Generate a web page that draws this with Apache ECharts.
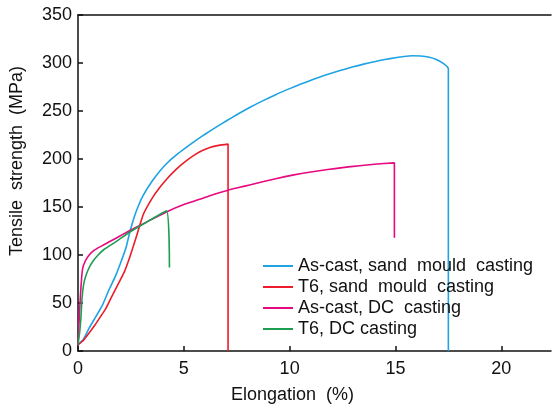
<!DOCTYPE html>
<html>
<head>
<meta charset="utf-8">
<script src="https://cdn.jsdelivr.net/npm/echarts@6/dist/echarts.min.js"></script>
<style>
  html, body { margin: 0; padding: 0; background: #fff; }
  #chart { width: 552px; height: 409px; }
</style>
</head>
<body>
<div id="chart"></div>
<script>
// Tensile stress–strain curves: [elongation %, tensile strength MPa]
const seriesNames = [
  'As-cast, sand  mould  casting',
  'T6, sand  mould  casting',
  'As-cast, DC  casting',
  'T6, DC casting'
];
const seriesColors = ['#1fa3e3', '#ec1c2a', '#e6097f', '#1e9e52'];

const asCastSand = [
  [0, 6.5], [0.25, 12], [0.53, 24], [0.85, 36], [1.16, 48], [1.45, 63], [1.79, 79],
  [2.05, 94], [2.26, 107], [2.45, 124], [2.65, 139], [2.85, 151], [3.08, 162],
  [3.45, 175.3], [3.87, 187.5], [4.25, 196.6], [4.65, 204.2], [5.05, 211],
  [5.44, 217.3], [5.85, 223.5], [6.23, 229], [6.6, 234.2], [7.0, 239.6],
  [7.5, 246.1], [8.11, 253.6], [8.7, 260.3], [9.34, 267], [10.0, 273.3],
  [10.5, 277.8], [11.1, 282.8], [11.7, 287.4], [12.3, 291.6], [13.0, 296],
  [13.5, 298.8], [14.06, 301.6], [14.5, 303.6], [15.0, 305.5], [15.4, 306.8],
  [15.8, 307.5], [16.2, 307.3], [16.6, 306], [16.9, 304], [17.2, 300.5],
  [17.5, 294], [17.5, 0]
];
const t6Sand = [
  [0, 6.5], [0.25, 11], [0.5, 18], [0.8, 27], [1.1, 37], [1.32, 44.5], [1.6, 57],
  [1.95, 72], [2.2, 83], [2.42, 96], [2.7, 115], [2.92, 131], [3.1, 143],
  [3.5, 159], [3.87, 170.5], [4.25, 180.5], [4.65, 189.5], [5.05, 197],
  [5.44, 203.3], [5.85, 208.5], [6.23, 212], [6.65, 214.2], [7.09, 215.5], [7.09, 0]
];
const asCastDC = [
  [0, 6.5], [0.04, 25], [0.09, 48], [0.15, 70], [0.22, 86], [0.35, 94], [0.53, 100],
  [0.77, 105], [1.04, 108.5], [1.5, 114], [2.0, 120], [2.45, 125.6], [3.3, 135],
  [4.2, 145], [5.0, 152.5], [5.75, 158], [6.4, 163], [7.09, 167.5], [7.64, 170.5],
  [8.11, 173], [9.34, 179.5], [10.2, 183.5], [11.0, 186.5], [11.8, 189],
  [12.49, 191], [13.3, 193], [14.0, 194.5], [14.95, 196], [14.95, 118]
];
const t6DC = [
  [0, 6.5], [0.08, 20], [0.14, 35], [0.19, 55], [0.27, 70], [0.38, 79], [0.53, 87],
  [0.69, 93], [0.95, 100], [1.24, 106], [1.8, 114], [2.45, 124], [3.3, 135],
  [4.18, 146], [4.32, 87]
];
const seriesData = [asCastSand, t6Sand, asCastDC, t6DC];

const xTicks = { min: 0, max: 22.35, interval: 5 };
const yTicks = { min: 0, max: 350, interval: 50 };

const font = 'Liberation Sans, Arial, sans-serif';
const chart = echarts.init(document.getElementById('chart'), null, { renderer: 'canvas' });

chart.setOption({
  animation: false,
  backgroundColor: '#fff',
  grid: { left: 78, right: 1, top: 15, bottom: 56 },
  legend: {
    orient: 'vertical',
    left: 258,
    top: 252,
    itemWidth: 30,
    itemHeight: 2,
    itemGap: 3,
    icon: 'rect',
    textStyle: { fontFamily: font, fontSize: 18, color: '#111' },
    data: seriesNames
  },
  xAxis: [{
    type: 'value',
    min: xTicks.min, max: xTicks.max, interval: xTicks.interval,
    name: 'Elongation  (%)',
    nameLocation: 'middle',
    nameGap: 35,
    nameTextStyle: { fontFamily: font, fontSize: 18, color: '#111', padding: [0, 44, 0, 0] },
    axisLine: { show: true, lineStyle: { color: '#111', width: 1.5 } },
    axisTick: { show: true, inside: true, length: 5, lineStyle: { color: '#111', width: 1.5 } },
    axisLabel: { fontFamily: font, fontSize: 18, color: '#111', margin: 9, showMaxLabel: false },
    splitLine: { show: false }
  }, {
    type: 'value',
    position: 'top',
    min: xTicks.min, max: xTicks.max,
    axisLine: { show: true, lineStyle: { color: '#111', width: 1.5 } },
    axisTick: { show: false },
    axisLabel: { show: false },
    splitLine: { show: false }
  }],
  yAxis: {
    type: 'value',
    min: yTicks.min, max: yTicks.max, interval: yTicks.interval,
    name: 'Tensile  strength  (MPa)',
    nameLocation: 'middle',
    nameGap: 52,
    nameTextStyle: { fontFamily: font, fontSize: 18, color: '#111', padding: [0, 0, 0, 44] },
    axisLine: { show: true, lineStyle: { color: '#111', width: 1.5 } },
    axisTick: { show: true, inside: true, length: 5, lineStyle: { color: '#111', width: 1.5 } },
    axisLabel: { fontFamily: font, fontSize: 18, color: '#111', margin: 6 },
    splitLine: { show: false }
  },
  series: seriesNames.map((name, i) => ({
    name,
    type: 'line',
    xAxisIndex: 0,
    data: seriesData[i],
    showSymbol: false,
    symbol: 'none',
    smooth: 0.2,
    smoothMonotone: 'none',
    color: seriesColors[i],
    lineStyle: { color: seriesColors[i], width: 1.6 }
  }))
});
</script>
</body>
</html>
